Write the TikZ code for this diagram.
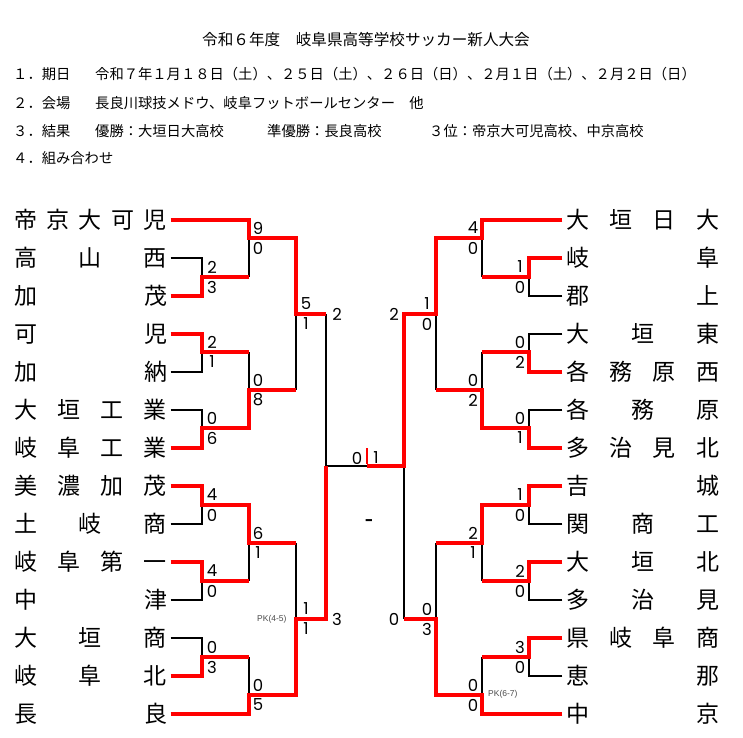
\documentclass[tikz,border=0pt]{standalone}
\usepackage{fontspec}
\setmainfont{Noto Sans CJK JP}
\newfontfamily\digf{Poppins}
\newfontfamily\pkf{Liberation Sans}
\newcommand\jt[1]{\makebox[153pt]{#1}}
\begin{document}
\begin{tikzpicture}[x=1pt,y=-1pt,
 win/.style={draw=red,line width=3.2pt,line join=miter},
 lose/.style={draw=black,line width=2pt},
 team/.style={inner xsep=3.5pt,inner ysep=0pt,font=\fontsize{23}{23}\selectfont},
 hd/.style={anchor=west,inner sep=0pt,font=\fontsize{14.3}{14.3}\selectfont},
 ttl/.style={anchor=west,inner sep=0pt,font=\fontsize{15.6}{15.6}\selectfont},
 scc/.style={inner sep=0pt,font=\digf\fontsize{16.5}{16.5}\selectfont},
 pk/.style={anchor=west,inner sep=0pt,font=\pkf\fontsize{8.5}{8.5}\selectfont,text=black!70}]
\fill[white] (0,0) rectangle (743,737);
\useasboundingbox (0,0) rectangle (743,737);

% header
\node[ttl] (title) at (202,40) {令和６年度　岐阜県高等学校サッカー新人大会};
\node[hd] (h1) at (13,74) {１．期日};
\node[hd] (h1t) at (95,74) {令和７年１月１８日（土）、２５日（土）、２６日（日）、２月１日（土）、２月２日（日）};
\node[hd] (h2) at (13,103) {２．会場};
\node[hd] (h2t) at (95,103) {長良川球技メドウ、岐阜フットボールセンター　他};
\node[hd] (h3) at (13,131) {３．結果};
\node[hd] (h3a) at (95,131) {優勝：大垣日大高校};
\node[hd] (h3b) at (267,131) {準優勝：長良高校};
\node[hd] (h3c) at (429,131) {３位：帝京大可児高校、中京高校};
\node[hd] (h4) at (13,158) {４．組み合わせ};

% left teams
\node[team] (L0) at (90.5,220) {\jt{帝\hfill 京\hfill 大\hfill 可\hfill 児}};
\node[team] (L1) at (90.5,258) {\jt{高\hfill 山\hfill 西}};
\node[team] (L2) at (90.5,296) {\jt{加\hfill 茂}};
\node[team] (L3) at (90.5,334) {\jt{可\hfill 児}};
\node[team] (L4) at (90.5,372) {\jt{加\hfill 納}};
\node[team] (L5) at (90.5,410) {\jt{大\hfill 垣\hfill 工\hfill 業}};
\node[team] (L6) at (90.5,448) {\jt{岐\hfill 阜\hfill 工\hfill 業}};
\node[team] (L7) at (90.5,486) {\jt{美\hfill 濃\hfill 加\hfill 茂}};
\node[team] (L8) at (90.5,524) {\jt{土\hfill 岐\hfill 商}};
\node[team] (L9) at (90.5,562) {\jt{岐\hfill 阜\hfill 第\hfill 一}};
\node[team] (L10) at (90.5,600) {\jt{中\hfill 津}};
\node[team] (L11) at (90.5,638) {\jt{大\hfill 垣\hfill 商}};
\node[team] (L12) at (90.5,676) {\jt{岐\hfill 阜\hfill 北}};
\node[team] (L13) at (90.5,714) {\jt{長\hfill 良}};

% right teams
\node[team] (R0) at (642.5,220) {\jt{大\hfill 垣\hfill 日\hfill 大}};
\node[team] (R1) at (642.5,258) {\jt{岐\hfill 阜}};
\node[team] (R2) at (642.5,296) {\jt{郡\hfill 上}};
\node[team] (R3) at (642.5,334) {\jt{大\hfill 垣\hfill 東}};
\node[team] (R4) at (642.5,372) {\jt{各\hfill 務\hfill 原\hfill 西}};
\node[team] (R5) at (642.5,410) {\jt{各\hfill 務\hfill 原}};
\node[team] (R6) at (642.5,448) {\jt{多\hfill 治\hfill 見\hfill 北}};
\node[team] (R7) at (642.5,486) {\jt{吉\hfill 城}};
\node[team] (R8) at (642.5,524) {\jt{関\hfill 商\hfill 工}};
\node[team] (R9) at (642.5,562) {\jt{大\hfill 垣\hfill 北}};
\node[team] (R10) at (642.5,600) {\jt{多\hfill 治\hfill 見}};
\node[team] (R11) at (642.5,638) {\jt{県\hfill 岐\hfill 阜\hfill 商}};
\node[team] (R12) at (642.5,676) {\jt{恵\hfill 那}};
\node[team] (R13) at (642.5,714) {\jt{中\hfill 京}};

% match junctions, left
\coordinate (mL1) at (202,277);
\coordinate (mL2) at (202,352);
\coordinate (mL3) at (202,428);
\coordinate (mL4) at (202,505);
\coordinate (mL5) at (202,581);
\coordinate (mL6) at (202,657);
\coordinate (mL7) at (249,238);
\coordinate (mL8) at (249,390);
\coordinate (mL9) at (249,543);
\coordinate (mL10) at (249,695);
\coordinate (mL11) at (296,314);
\coordinate (mL12) at (296,619);
\coordinate (mL13) at (326,466);
% match junctions, right
\coordinate (mR1) at (529,277);
\coordinate (mR2) at (529,352);
\coordinate (mR3) at (529,428);
\coordinate (mR4) at (529,505);
\coordinate (mR5) at (529,581);
\coordinate (mR6) at (529,657);
\coordinate (mR7) at (482,238);
\coordinate (mR8) at (482,390);
\coordinate (mR9) at (482,543);
\coordinate (mR10) at (482,695);
\coordinate (mR11) at (436,314);
\coordinate (mR12) at (436,619);
\coordinate (mR13) at (404,466);
\coordinate (fin) at (367,466);
\coordinate (finT) at (367,448);

% losing lines (black)
\draw[lose] (L1.east) -| (mL1);
\draw[lose] (L4.east) -| (mL2);
\draw[lose] (L5.east) -| (mL3);
\draw[lose] (L8.east) -| (mL4);
\draw[lose] (L10.east) -| (mL5);
\draw[lose] (L11.east) -| (mL6);
\draw[lose] (mL1 -| mL7) -- (mL7);
\draw[lose] (mL2 -| mL8) -- (mL8);
\draw[lose] (mL5 -| mL9) -- (mL9);
\draw[lose] (mL6 -| mL10) -- (mL10);
\draw[lose] (mL8 -| mL11) -- (mL11);
\draw[lose] (mL9 -| mL12) -- (mL12);
\draw[lose] (mL11 -| mL13) -- (mL13) -- (fin);

\draw[lose] (R2.west) -| (mR1);
\draw[lose] (R3.west) -| (mR2);
\draw[lose] (R5.west) -| (mR3);
\draw[lose] (R8.west) -| (mR4);
\draw[lose] (R10.west) -| (mR5);
\draw[lose] (R12.west) -| (mR6);
\draw[lose] (mR1 -| mR7) -- (mR7);
\draw[lose] (mR2 -| mR8) -- (mR8);
\draw[lose] (mR5 -| mR9) -- (mR9);
\draw[lose] (mR6 -| mR10) -- (mR10);
\draw[lose] (mR8 -| mR11) -- (mR11);
\draw[lose] (mR9 -| mR12) -- (mR12);
\draw[lose] (mR12 -| mR13) -- (mR13);

% winning lines (red)
\draw[win] (L0.east) -| (mL7) -| (mL11) -- (mL11 -| mL13);
\draw[win] (L2.east) -| (mL1) -- (mL1 -| mL7);
\draw[win] (L3.east) -| (mL2) -- (mL2 -| mL8);
\draw[win] (L6.east) -| (mL3) -| (mL8) -- (mL8 -| mL11);
\draw[win] (L7.east) -| (mL4) -| (mL9) -- (mL9 -| mL12);
\draw[win] (L9.east) -| (mL5) -- (mL5 -| mL9);
\draw[win] (L12.east) -| (mL6) -- (mL6 -| mL10);
\draw[win] (L13.east) -| (mL10) -| (mL12) -| (mL13);

\draw[win] (R0.west) -| (mR7) -| (mR11) -| (mR13) -- (fin);
\draw[win] (R1.west) -| (mR1) -- (mR1 -| mR7);
\draw[win] (R4.west) -| (mR2) -- (mR2 -| mR8);
\draw[win] (R6.west) -| (mR3) -| (mR8) -- (mR8 -| mR11);
\draw[win] (R7.west) -| (mR4) -| (mR9) -- (mR9 -| mR12);
\draw[win] (R9.west) -| (mR5) -- (mR5 -| mR9);
\draw[win] (R11.west) -| (mR6) -- (mR6 -| mR10);
\draw[win] (R13.west) -| (mR10) -| (mR12) -- (mR12 -| mR13);
\draw[draw=red,line width=2.6pt] (finT) -- ([yshift=2pt]fin);

% scores left (centres)
\foreach \x/\y/\t [count=\i] in {212/267/2,212/287/3,212/342/2,212/362/1,212/418/0,212/438/6,
  212/495/4,212/515/0,212/571/4,212/591/0,212/647/0,212/667/3,
  258/228/9,258/248/0,258/380/0,258/400/8,258/533/6,258/553/1,258/685/0,258/705/5,
  306/304/5,306/324/1,306/609/1,306/629/1,337/314/2,337/619/3}
  \node[scc] (sl\i) at (\x,\y) {\t};
% scores right (centres)
\foreach \x/\y/\t [count=\i] in {520/267/1,520/287/0,520/342/0,520/362/2,520/418/0,520/438/1,
  520/495/1,520/515/0,520/571/2,520/591/0,520/647/3,520/667/0,
  473/228/4,473/248/0,473/380/0,473/400/2,473/533/2,473/553/1,473/685/0,473/705/0,
  427/304/1,427/324/0,427/609/0,427/629/3,394/314/2,394/619/0}
  \node[scc] (sr\i) at (\x,\y) {\t};
\node[scc] (fl) at (357,458) {0};
\node[scc] (fr) at (376,458) {1};
\node[inner sep=0pt,font=\pkf\fontsize{26}{26}\selectfont] (dash) at (369,524) {-};
\node[pk] (pk1) at (257,619) {PK(4-5)};
\node[pk] (pk2) at (488,694) {PK(6-7)};
\end{tikzpicture}
\end{document}
